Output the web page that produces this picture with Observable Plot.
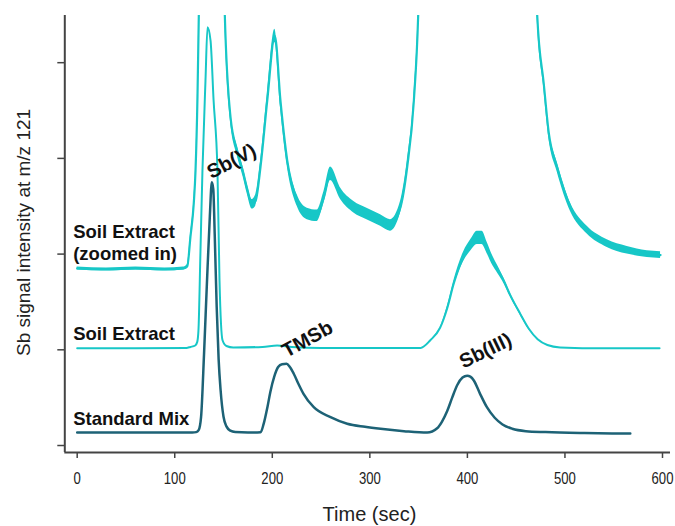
<!DOCTYPE html>
<html><head><meta charset="utf-8">
<script src="https://cdn.jsdelivr.net/npm/d3@7"></script>
<script src="https://cdn.jsdelivr.net/npm/@observablehq/plot@0.6"></script>
<style>body{margin:0;background:#fff} #chart{width:675px;height:526px}</style>
</head><body><div id="chart"></div>
<script>
// Time axis ticks (sec) and y ticks (unlabelled)
const xTicks = [0, 100, 200, 300, 400, 500, 600];
const yTicks = [0, 1, 2, 3, 4];

// Standard Mix trace
const stdX = [0,60,118,122,124.5,127,130,133,136,138,139.5,141,143,145,147,150,153,157,162,175,188,191,195,198,202,206,210,214.6,218,222,227,232,242.5,259.7,276.8,295,311,335,358.8,369,374,379.3,384.4,389.5,395,399.8,403,406.6,413,420,428,436,446,460,480,520,567];
const stdY = [0.136,0.136,0.136,0.14,0.16,0.3,0.95,1.7,2.4,2.75,2.68,2.2,1.45,0.9,0.58,0.3,0.2,0.155,0.14,0.135,0.139,0.22,0.40,0.56,0.72,0.82,0.85,0.854,0.82,0.75,0.64,0.54,0.40,0.296,0.227,0.195,0.174,0.15,0.135,0.18,0.25,0.36,0.50,0.63,0.71,0.73,0.72,0.68,0.54,0.40,0.29,0.22,0.175,0.15,0.14,0.13,0.125];

// Soil Extract trace
const soilX = [0,60,112,116,121,123,124.3,126.3,128.4,131.5,133.6,136.7,139.8,143.8,145.9,149,153,160,190,205,220,250,300,340,352,362,372,379.5,386,396,404,410,415,420,426,431,436,445,454,463,472,482,495,540,597];
const soilY = [1.015,1.015,1.02,1.03,1.045,1.08,1.2,2.0,2.87,3.81,4.37,4.23,3.61,2.87,1.72,1.10,1.04,1.025,1.03,1.045,1.03,1.02,1.02,1.02,1.02,1.10,1.23,1.44,1.69,1.97,2.10,2.17,2.17,2.07,1.93,1.84,1.75,1.55,1.38,1.22,1.11,1.05,1.025,1.015,1.015];
const soilNoise = [0,0,0,0,0,0,0,0,0,0,0,0,0,0,0,0,0,0,0,0,0,0,0,0,0,0,0,0.02,0.03,0.05,0.06,0.07,0.07,0.06,0.05,0.04,0.03,0.02,0.015,0.01,0,0,0,0,0];

// Soil Extract (zoomed in) trace; values above 4.5 run off the top of the frame
const zoomX = [0,30,60,90,109,112.8,116.1,119.5,121.3,123.3,124.7,126,149,151.3,157.2,164,170,174.3,179.4,183,187.9,194.8,202.6,208.4,215.3,225.5,235.8,246,252.8,259.7,270,283.6,297,311,321,331.4,338.3,345.1,349.6,352,469,471.6,478.3,483.5,492,505.7,522.8,543.3,563.8,584.3,598];
const zoomY = [1.85,1.84,1.85,1.84,1.85,1.87,2.18,2.53,2.87,3.64,4.51,5.5,5.5,4.51,3.43,3.08,2.86,2.68,2.52,2.56,2.91,3.6,4.28,3.6,2.98,2.56,2.42,2.40,2.59,2.84,2.63,2.49,2.42,2.35,2.30,2.49,2.91,3.6,4.51,5.5,5.5,4.49,3.78,3.26,2.91,2.49,2.25,2.11,2.04,2.0,1.99];
const zoomNoise = [0.015,0.015,0.015,0.015,0.015,0.02,0.02,0.02,0.02,0.02,0.02,0.05,0.05,0.05,0.05,0.05,0.05,0.05,0.05,0.06,0.06,0.07,0.07,0.07,0.06,0.06,0.06,0.06,0.06,0.07,0.06,0.06,0.06,0.06,0.06,0.06,0.06,0.05,0.05,0.05,0.05,0.05,0.05,0.05,0.05,0.045,0.04,0.04,0.04,0.035,0.035];

// Series and peak labels
const seriesLabels = ["Soil Extract\n(zoomed in)", "Soil Extract", "Standard Mix"];
const seriesLabelX = [-4.1, -4.1, -4.1];
const seriesLabelY = [2.13, 1.18, 0.29];
const peakLabels = ["Sb(V)", "TMSb", "Sb(III)"];
const peakLabelX = [158.2, 236.1, 418.6];
const peakLabelY = [2.97, 1.11, 0.99];
const peakLabelAngle = [-28, -29, -26];

const xTitle = "Time (sec)";
const yTitle = "Sb signal intensity at m/z 121";

const rows = (xs, ys, ns) => xs.map((x, i) => ({x, y: ys[i], lo: ys[i] - (ns ? ns[i] : 0), hi: ys[i] + (ns ? ns[i] : 0)}));
const stdRows = rows(stdX, stdY);
const soilRows = rows(soilX, soilY, soilNoise);
const zoomRows = rows(zoomX, zoomY, zoomNoise);
const seriesRows = seriesLabels.map((t, i) => ({t, x: seriesLabelX[i], y: seriesLabelY[i]}));
const peakRows = peakLabels.map((t, i) => ({t, x: peakLabelX[i], y: peakLabelY[i], r: peakLabelAngle[i]}));

const xDom = [-12.7, 608.2];
const yDom = [-0.073, 4.493];
const soilColor = "#17c7c7";
const stdColor = "#1d6276";
const axisColor = "#444";
const curve = "monotone-x";

const plot = Plot.plot({
  width: 675, height: 526,
  marginLeft: 64.3, marginRight: 5, marginTop: 15, marginBottom: 74,
  x: {domain: xDom},
  y: {domain: yDom},
  style: {fontFamily: "'Liberation Sans', Arial, sans-serif", fontSize: "16px", color: "#222", background: "#fff", overflow: "visible"},
  marks: [
    Plot.areaY(zoomRows, {x: "x", y1: "lo", y2: "hi", fill: soilColor, curve, clip: true}),
    Plot.line(zoomRows, {x: "x", y: "y", stroke: soilColor, strokeWidth: 2.2, curve, clip: true}),
    Plot.areaY(soilRows, {x: "x", y1: "lo", y2: "hi", fill: soilColor, curve, clip: true}),
    Plot.line(soilRows, {x: "x", y: "y", stroke: soilColor, strokeWidth: 2, curve, clip: true}),
    Plot.line(stdRows, {x: "x", y: "y", stroke: stdColor, strokeWidth: 2.5, curve, clip: true}),
    Plot.axisX({ticks: xTicks, tickSize: 6, tickPadding: 14, label: null, stroke: axisColor, strokeWidth: 1.5}),
    Plot.axisY({ticks: yTicks, tickSize: 7, tickFormat: () => "", label: null, stroke: axisColor, strokeWidth: 1.5}),
    Plot.ruleX([xDom[0]], {stroke: axisColor, strokeWidth: 2}),
    Plot.ruleY([yDom[0]], {stroke: axisColor, strokeWidth: 2}),
    Plot.text(seriesRows, {x: "x", y: "y", text: "t", textAnchor: "start", lineAnchor: "middle", lineHeight: 1.19, fontSize: 18.5, fontWeight: "bold", fill: "#111"}),
    Plot.text(peakRows, {x: "x", y: "y", text: "t", rotate: "r", textAnchor: "middle", lineAnchor: "middle", fontSize: 20, fontWeight: "bold", fill: "#111"}),
    Plot.text([xTitle], {x: 299.6, y: -0.727, text: d => d, textAnchor: "middle", lineAnchor: "middle", fontSize: 20, fill: "#222"}),
    Plot.text([yTitle], {x: -55, y: 2.226, text: d => d, rotate: -90, textAnchor: "middle", lineAnchor: "middle", fontSize: 19, fill: "#222"})
  ]
});

// narrow tick-label face
plot.querySelectorAll('g[aria-label="x-axis tick label"] text').forEach(t => {
  const tr = t.getAttribute("transform") || "";
  const x = +(t.getAttribute("x") || 0);
  t.setAttribute("transform", `${tr} translate(${x},0) scale(0.82,1) translate(${-x},0)`);
});

document.getElementById("chart").appendChild(plot);
</script>
</body></html>
